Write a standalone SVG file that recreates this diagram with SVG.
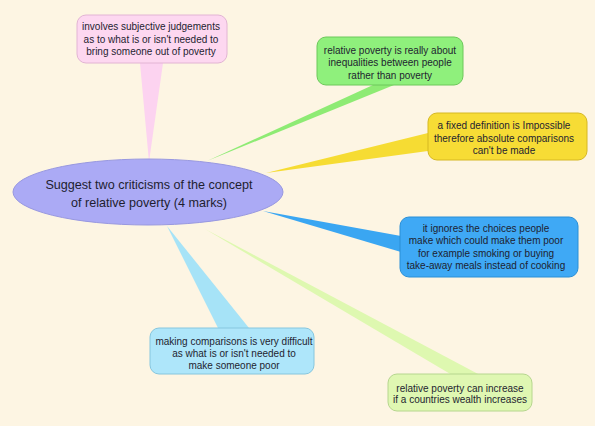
<svg xmlns="http://www.w3.org/2000/svg" width="595" height="426" viewBox="0 0 595 426">
<style>
text{font-family:"Liberation Sans",Arial,Helvetica,sans-serif;fill:#1e1e30;text-anchor:middle}
.n{font-size:10px}
.c{font-size:12.6px}
</style>
<rect width="595" height="426" fill="#fdf5e3"/>
<g id="connectors">
<polygon points="140,63 163,63 149,162" fill="#fcd3f0"/>
<polygon points="373,85 394,85 207,161" fill="#8eeb74"/>
<polygon points="428,133 428,151 266,173" fill="#f6dc33"/>
<polygon points="263,211 401,236 401,252" fill="#3aa6f2"/>
<polygon points="167,226 218,328 249,328" fill="#a6e3f7"/>
<polygon points="205,229 452,375 480,375" fill="#def8b0"/>
</g>
<g id="center">
<ellipse cx="148" cy="192" rx="135" ry="33" fill="#abaaf5" stroke="#9898e0" stroke-width="1"/>
<text class="c" x="149" y="189">Suggest two criticisms of the concept</text>
<text class="c" x="149" y="207">of relative poverty (4 marks)</text>
</g>
<g id="n1">
<rect x="77" y="15" width="150" height="48" rx="9" fill="#fdd7f0" stroke="#e2b4d4"/>
<text class="n" x="151" y="30">involves subjective judgements</text>
<text class="n" x="151" y="42.5">as to what is or isn't needed to</text>
<text class="n" x="151" y="55">bring someone out of poverty</text>
</g>
<g id="n2">
<rect x="317" y="37" width="146" height="48" rx="9" fill="#8ff07c" stroke="#6cc85a"/>
<text class="n" x="390" y="53.5">relative poverty is really about</text>
<text class="n" x="390" y="66">inequalities between people</text>
<text class="n" x="390" y="78.5">rather than poverty</text>
</g>
<g id="n3">
<rect x="428" y="113" width="159" height="47" rx="9" fill="#f7dc35" stroke="#d6b822"/>
<text class="n" x="504" y="129">a fixed definition is Impossible</text>
<text class="n" x="504" y="141.5">therefore absolute comparisons</text>
<text class="n" x="504" y="154">can't be made</text>
</g>
<g id="n4">
<rect x="400" y="217" width="178" height="60" rx="9" fill="#3fa9f5" stroke="#2a8fd6"/>
<text class="n" x="486" y="231.5">it ignores the choices people</text>
<text class="n" x="486" y="244">make which could make them poor</text>
<text class="n" x="486" y="256.5">for example smoking or buying</text>
<text class="n" x="486" y="269">take-away meals instead of cooking</text>
</g>
<g id="n5">
<rect x="150" y="328" width="164" height="46" rx="9" fill="#aee6fa" stroke="#86c6de"/>
<text class="n" x="234" y="345">making comparisons is very difficult</text>
<text class="n" x="234" y="357">as what is or isn't needed to</text>
<text class="n" x="234" y="369">make someone poor</text>
</g>
<g id="n6">
<rect x="388" y="374" width="144" height="37" rx="9" fill="#dff7b2" stroke="#b6d68e"/>
<text class="n" x="460" y="391.5">relative poverty can increase</text>
<text class="n" x="460" y="402.5">if a countries wealth increases</text>
</g>
</svg>
